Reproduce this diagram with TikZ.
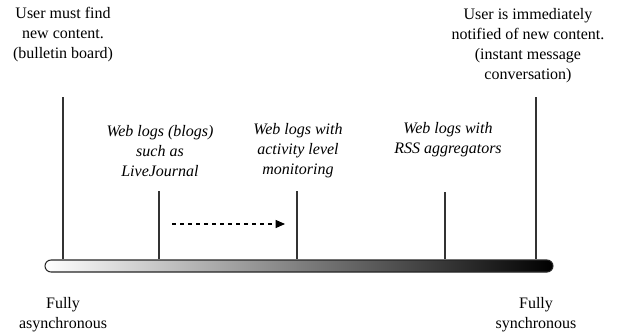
\documentclass[tikz,border=0pt]{standalone}
\usepackage{fontspec}
\setmainfont{Liberation Serif}
\usetikzlibrary{
  arrows.meta,   % Triangle arrow tip
  calc,          % coordinate calculation
  positioning    % relative placement
}
\tikzset{
  label text/.style={
    align=center,
    font=\fontsize{12}{15}\selectfont,
    inner sep=0pt
  },
  blog text/.style={
    label text,
    font=\fontsize{12}{15}\selectfont\itshape
  },
  tick line/.style={
    draw=black!80,
    line width=0.8pt
  },
  scale bar/.style={
    rectangle,
    rounded corners=4.5pt,
    draw=black!85,
    line width=0.8pt,
    left color=white,
    right color=black,
    minimum width=381pt,
    minimum height=9pt,
    inner sep=0pt
  },
  move arrow/.style={
    -{Triangle[length=7pt,width=6pt]},
    dashed,
    line width=0.8pt
  }
}

\begin{document}
\begin{tikzpicture}[x=0.75pt, y=-0.75pt]
    \useasboundingbox (0,0) rectangle (629,333);

    % --- the scale from asynchronous to synchronous ---
    \node[scale bar] (bar) at (299,266) {};

    % tops of the five tick lines
    \coordinate (top1) at (63,97);
    \coordinate (top2) at (159,191);
    \coordinate (top3) at (297,191);
    \coordinate (top4) at (445,192);
    \coordinate (top5) at (536,97);

    \foreach \i in {1,...,5}
      \draw[tick line] (top\i) -- (top\i |- bar.north);

    % --- the two ends ---
    \node[label text] (async) at (63,35) {User must find\\new content.\\(bulletin board)};
    \node[label text] (sync) at (528,46) {User is immediately\\notified of new content.\\(instant message\\conversation)};

    \node[label text] (fullasync) at (63,315) {Fully\\asynchronous};
    \node[label text] (fullsync) at (536,315) {Fully\\synchronous};

    % --- blog kinds along the scale ---
    \node[blog text] (blogs) at (160,151) {Web logs (blogs)\\such as\\LiveJournal};
    \node[blog text] (activity) at (298,151) {Web logs with\\activity level\\monitoring};
    \node[blog text] (rss) at (448,140) {Web logs with\\RSS aggregators};

    % move towards synchronous
    \coordinate (arrS) at (172,224);
    \coordinate (arrE) at (285,224);
    \draw[move arrow] (arrS) -- (arrE);
  \end{tikzpicture}
\end{document}
